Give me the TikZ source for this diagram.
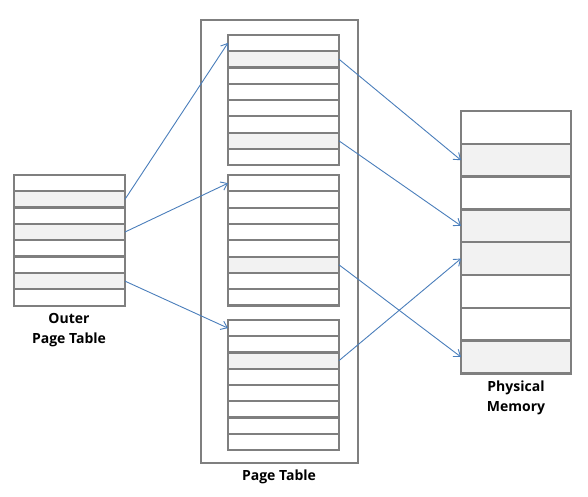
\documentclass[tikz,border=0pt]{standalone}
\usepackage{fontspec}
\setmainfont{Open Sans}
\usetikzlibrary{arrows.meta}
\definecolor{gline}{HTML}{7F7F7F}
\definecolor{cellgray}{HTML}{F2F2F2}
\definecolor{arrc}{HTML}{4A7EBB}
\tikzset{
  rowbox/.style={draw=gline, line width=2.3pt, rectangle, inner sep=0pt, outer sep=0pt, anchor=north west, minimum width=#1},
  arr/.style={draw=arrc, line width=0.9pt, -{Straight Barb[length=6pt,width=9pt,line width=0.9pt]}},
  lbl/.style={align=center, font=\fontsize{14}{20}\selectfont\bfseries, text=black}
}
\begin{document}
\begin{tikzpicture}[x=1pt,y=-1pt]
\useasboundingbox (0,0) rectangle (588,497);
% page table frame
\node[draw=gline, line width=2.3pt, rectangle, anchor=north west, minimum width=157pt, minimum height=443pt, inner sep=0pt, outer sep=0pt] (frame) at (201,20) {};
% outer page table
\foreach \i/\f in {1/white,2/cellgray,3/white,4/cellgray,5/white,6/white,7/cellgray,8/white}{
  \pgfmathsetmacro{\yy}{174.7+(\i-1)*16.375}
  \node[rowbox=111pt, minimum height=16.375pt, fill=\f] (o\i) at (14,\yy) {};
}
% table 1
\foreach \i/\f in {1/white,2/cellgray,3/white,4/white,5/white,6/white,7/cellgray,8/white}{
  \pgfmathsetmacro{\yy}{34.7+(\i-1)*16.33}
  \node[rowbox=111pt, minimum height=16.33pt, fill=\f] (a\i) at (228,\yy) {};
}
% table 2
\foreach \i/\f in {1/white,2/white,3/white,4/white,5/white,6/cellgray,7/white,8/white}{
  \pgfmathsetmacro{\yy}{175+(\i-1)*16.33}
  \node[rowbox=111pt, minimum height=16.33pt, fill=\f] (b\i) at (228,\yy) {};
}
% table 3
\foreach \i/\f in {1/white,2/white,3/cellgray,4/white,5/white,6/white,7/white,8/white}{
  \pgfmathsetmacro{\yy}{320+(\i-1)*16.25}
  \node[rowbox=111pt, minimum height=16.25pt, fill=\f] (c\i) at (228,\yy) {};
}
% physical memory
\foreach \i/\f in {1/white,2/cellgray,3/white,4/cellgray,5/cellgray,6/white,7/white,8/cellgray}{
  \pgfmathsetmacro{\yy}{111+(\i-1)*32.8}
  \node[rowbox=110pt, minimum height=32.8pt, fill=\f] (m\i) at (461,\yy) {};
}
% labels
\node[lbl] (louter) at (69,330) {Outer\\Page Table};
\node[lbl] (lpt) at (279,477) {Page Table};
\node[lbl] (lpm) at (516,398) {Physical\\Memory};
% arrows
\draw[arr] (o2.east) -- (a1.west);
\draw[arr] (o4.east) -- (b1.west);
\draw[arr] (o7.east) -- (c1.west);
\draw[arr] (a2.east) -- (m2.west);
\draw[arr] (a7.east) -- (m4.west);
\draw[arr] (b6.east) -- (m8.west);
\draw[arr] (c3.east) -- (m5.west);
\end{tikzpicture}
\end{document}
